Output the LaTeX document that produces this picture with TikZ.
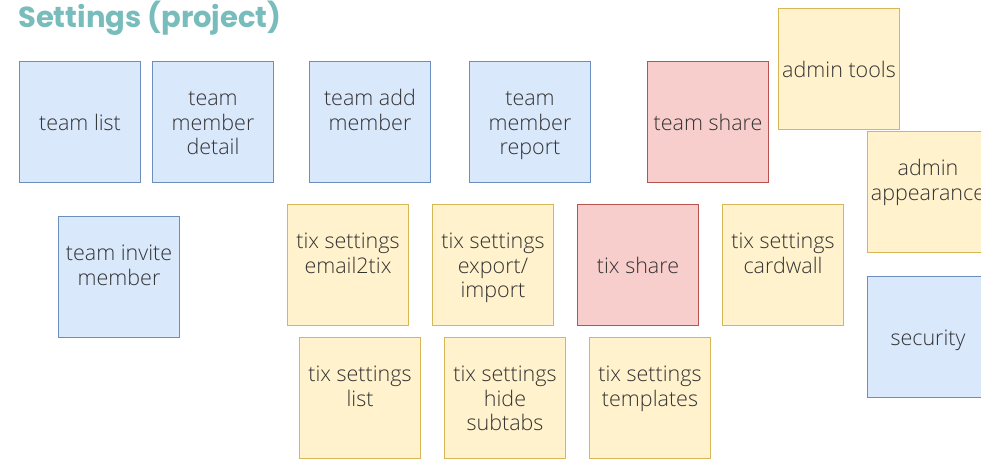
\documentclass[tikz,border=0pt]{standalone}
\usepackage{fontspec}
\setmainfont{Open Sans}[UprightFont=* Light]
\newfontfamily\titlefont{Poppins}[UprightFont=* Bold]
\definecolor{bluefill}{HTML}{DAE8FC}
\definecolor{blueline}{HTML}{6C8EBF}
\definecolor{yellowfill}{HTML}{FFF2CC}
\definecolor{yellowline}{HTML}{D6B656}
\definecolor{redfill}{HTML}{F8CECC}
\definecolor{redline}{HTML}{B85450}
\definecolor{txt}{HTML}{333333}
\definecolor{titlecol}{HTML}{78BCBC}
\begin{document}
\begin{tikzpicture}[x=1pt,y=-1pt,
    card/.style={line width=1pt,minimum width=121pt,minimum height=121pt,
      inner sep=0pt,align=center,text=txt,
      font=\fontsize{21.5}{24.5}\selectfont,
      execute at begin node={\rule{0pt}{23pt}},
      execute at end node={\rule[-6pt]{0pt}{6pt}}},
    tall/.style={execute at begin node={\rule{0pt}{71pt}}},
    bluecard/.style={card,fill=bluefill,draw=blueline},
    yellowcard/.style={card,fill=yellowfill,draw=yellowline},
    redcard/.style={card,fill=redfill,draw=redline}]

            \useasboundingbox (0,0) rectangle (981,459);
            \clip (0,0) rectangle (981,459);
            \node[anchor=base west,inner sep=0pt,text=titlecol,font=\titlefont\fontsize{29}{33}\selectfont]
              (title) at (18,27) {Settings (project)};

            % top row
            \node[bluecard] (teamlist) at (80,122) {team list};
            \node[bluecard,tall] (memberdetail) at (213,122) {team\\member\\detail};
            \node[bluecard,tall] (addmember) at (370,122) {team add\\member\\~};
            \node[bluecard,tall] (memberreport) at (530,122) {team\\member\\report};
            \node[redcard] (teamshare) at (708,122) {team share};
            \node[yellowcard] (admintools) at (839,69) {admin tools};
            \node[yellowcard,tall] (adminappearance) at (928,192) {admin\\appearance\\~};

            % middle row
            \node[bluecard,tall] (invitemember) at (119,277) {team invite\\member\\~};
            \node[yellowcard,tall] (email2tix) at (348,265) {tix settings\\email2tix\\~};
            \node[yellowcard,tall] (exportimport) at (493,265) {tix settings\\export/\\import};
            \node[redcard] (tixshare) at (638,265) {tix share};
            \node[yellowcard,tall] (cardwall) at (783,265) {tix settings\\cardwall\\~};
            \node[bluecard] (security) at (928,337) {security};

            % bottom row
            \node[yellowcard,tall] (tixlist) at (360,398) {tix settings\\list\\~};
            \node[yellowcard,tall] (hidesubtabs) at (505,398) {tix settings\\hide\\subtabs};
            \node[yellowcard,tall] (templates) at (650,398) {tix settings\\templates\\~};
            \end{tikzpicture}
\end{document}
